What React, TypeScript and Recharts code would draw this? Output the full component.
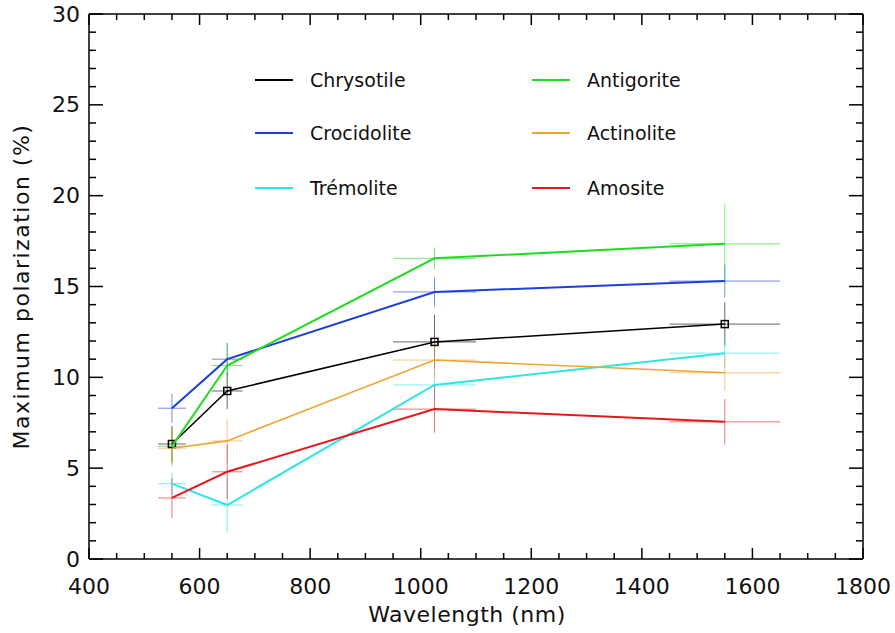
import React from 'react';
import { ComposedChart, Scatter, XAxis, YAxis, ErrorBar, Legend } from 'recharts';

const wavelengths = [550, 650, 1025, 1550];
const wavelengthErr = [25, 28, 75, 100];

const chrysotile = [6.33, 9.25, 11.95, 12.93];
const chrysotileErr = [1.0, 1.0, 1.5, 1.2];
const crocidolite = [8.3, 11.0, 14.7, 15.3];
const crocidoliteErr = [0.8, 0.9, 0.8, 0.9];
const tremolite = [4.15, 2.97, 9.58, 11.33];
const tremoliteErr = [0.6, 1.5, 0.8, 0.8];
const antigorite = [6.2, 10.65, 16.55, 17.35];
const antigoriteErr = [1.0, 1.2, 0.6, 2.2];
const actinolite = [6.1, 6.5, 10.95, 10.25];
const actinoliteErr = [1.0, 1.2, 1.0, 1.0];
const amosite = [3.36, 4.8, 8.25, 7.55];
const amositeErr = [1.1, 1.5, 1.3, 1.25];

const seriesNames = ['Chrysotile', 'Crocidolite', 'Trémolite', 'Antigorite', 'Actinolite', 'Amosite'];
const seriesColors = ['#000000', '#1c3fdc', '#2ee6e6', '#1fdc1f', '#efa531', '#e4181b'];
const seriesValues = [chrysotile, crocidolite, tremolite, antigorite, actinolite, amosite];
const seriesErrors = [chrysotileErr, crocidoliteErr, tremoliteErr, antigoriteErr, actinoliteErr, amositeErr];
const seriesWidths = [1.5, 2, 2, 2, 1.6, 2];

const xTicks: number[] = [];
for (let v = 400; v <= 1800; v += 50) xTicks.push(v);
const yTicks: number[] = [];
for (let v = 0; v <= 30; v += 1) yTicks.push(v);

const FONT = 'DejaVu Sans';

const buildData = (vals: number[], errs: number[]) =>
  wavelengths.map((w, i) => ({ x: w, y: vals[i], ex: wavelengthErr[i], ey: errs[i] }));

const frameData = wavelengths.map((w, i) => ({ x: w, y: chrysotile[i] }));

const BottomTick = (props: any) => {
  const { x, y, payload } = props;
  const v = payload.value;
  const major = v % 200 === 0;
  return (
    <g>
      <line x1={x} x2={x} y1={y} y2={y - (major ? 11 : 6)} stroke="#000" strokeWidth={1.5} />
      {major && (
        <text x={x} y={y + 35} textAnchor="middle" fontFamily={FONT} fontSize={22} fill="#111">
          {v}
        </text>
      )}
    </g>
  );
};

const TopTick = (props: any) => {
  const { x, y, payload } = props;
  const major = payload.value % 200 === 0;
  return <line x1={x} x2={x} y1={y} y2={y + (major ? 11 : 6)} stroke="#000" strokeWidth={1.5} />;
};

const LeftTick = (props: any) => {
  const { x, y, payload } = props;
  const v = payload.value;
  const major = v % 5 === 0;
  return (
    <g>
      <line x1={x} x2={x + (major ? 14 : 7)} y1={y} y2={y} stroke="#000" strokeWidth={1.5} />
      {major && (
        <text x={x - 9} y={y} textAnchor="end" dominantBaseline="central" fontFamily={FONT} fontSize={22} fill="#111">
          {v}
        </text>
      )}
    </g>
  );
};

const RightTick = (props: any) => {
  const { x, y, payload } = props;
  const major = payload.value % 5 === 0;
  return <line x1={x} x2={x - (major ? 14 : 7)} y1={y} y2={y} stroke="#000" strokeWidth={1.5} />;
};

const legendOrder = [
  [0, 3],
  [1, 4],
  [2, 5],
];

const renderLegend = () => (
  <svg width={420} height={160} style={{ overflow: 'visible' }}>
    {legendOrder.map((row, r) =>
      row.map((si, c) => {
        const lx = c === 0 ? 5 : 282;
        const ty = [25, 78, 133][r];
        return (
          <g key={si}>
            <line x1={lx} x2={lx + 38} y1={ty} y2={ty} stroke={seriesColors[si]} strokeWidth={2} />
            <text x={lx + 55} y={ty} dominantBaseline="central" fontFamily={FONT} fontSize={19} fill="#111">
              {seriesNames[si]}
            </text>
          </g>
        );
      })
    )}
  </svg>
);

const Square = (props: any) => {
  const { cx, cy } = props;
  if (cx == null || cy == null) return <g />;
  return <rect x={cx - 3.5} y={cy - 3.5} width={7} height={7} fill="none" stroke="#000" strokeWidth={1.5} />;
};
const NoShape = () => <g />;

export default function App() {
  return (
    <div style={{ position: 'absolute', left: 0, top: 0, background: '#fff' }}>
      <ComposedChart width={895} height={633} margin={{ top: 13, right: 31, left: 0, bottom: 0 }}>
        <XAxis
          xAxisId="bottom"
          dataKey="x"
          type="number"
          domain={[400, 1800]}
          allowDataOverflow
          ticks={xTicks}
          interval={0}
          tickSize={0}
          tickMargin={0}
          tick={<BottomTick />}
          height={74}
          axisLine={{ stroke: '#000', strokeWidth: 1.5 }}
          label={{
            value: 'Wavelength (nm)',
            position: 'insideBottom',
            offset: 11,
            dx: -9,
            style: { fontFamily: FONT, fontSize: 22, letterSpacing: 0.5, fill: '#111' },
          }}
        />
        <XAxis
          xAxisId="top"
          orientation="top"
          dataKey="x"
          type="number"
          domain={[400, 1800]}
          allowDataOverflow
          ticks={xTicks}
          interval={0}
          tickSize={0}
          tickMargin={0}
          tick={<TopTick />}
          height={1}
          axisLine={{ stroke: '#000', strokeWidth: 1.5 }}
        />
        <YAxis
          yAxisId="left"
          dataKey="y"
          type="number"
          domain={[0, 30]}
          allowDataOverflow
          ticks={yTicks}
          interval={0}
          tickSize={0}
          tickMargin={0}
          tick={<LeftTick />}
          width={89}
          axisLine={{ stroke: '#000', strokeWidth: 1.5 }}
          label={{
            value: 'Maximum polarization (%)',
            angle: -90,
            position: 'insideLeft',
            offset: 21,
            style: { fontFamily: FONT, fontSize: 22, letterSpacing: 1.5, fill: '#111', textAnchor: 'middle' },
          }}
        />
        <YAxis
          yAxisId="right"
          orientation="right"
          dataKey="y"
          type="number"
          domain={[0, 30]}
          allowDataOverflow
          ticks={yTicks}
          interval={0}
          tickSize={0}
          tickMargin={0}
          tick={<RightTick />}
          width={1}
          axisLine={{ stroke: '#000', strokeWidth: 1.5 }}
        />
        <Legend
          content={renderLegend}
          layout="vertical"
          align="center"
          verticalAlign="middle"
          wrapperStyle={{ left: 250, top: 55, width: 420, height: 160 }}
        />
        <Scatter
          name="frame"
          xAxisId="top"
          yAxisId="right"
          data={frameData}
          shape={<NoShape />}
          legendType="none"
          isAnimationActive={false}
        />
        {seriesNames.map((name, i) => (
          <Scatter
            key={name}
            name={name}
            xAxisId="bottom"
            yAxisId="left"
            data={buildData(seriesValues[i], seriesErrors[i])}
            fill={seriesColors[i]}
            line={{ stroke: seriesColors[i], strokeWidth: seriesWidths[i] }}
            shape={i === 0 ? <Square /> : <NoShape />}
            isAnimationActive={false}
          >
            <ErrorBar dataKey="ey" direction="y" width={0} stroke={seriesColors[i]} strokeWidth={1} strokeOpacity={0.6} />
            <ErrorBar dataKey="ex" direction="x" width={0} stroke={seriesColors[i]} strokeWidth={1} strokeOpacity={0.6} />
          </Scatter>
        ))}
      </ComposedChart>
    </div>
  );
}
